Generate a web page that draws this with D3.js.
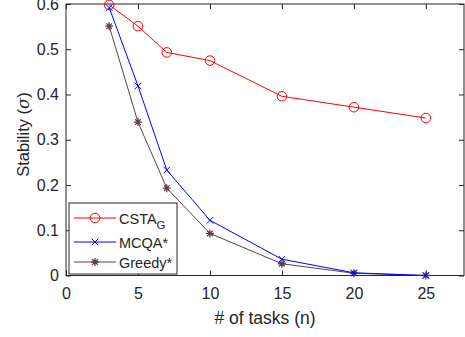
<!DOCTYPE html>
<html lang="en">
<head>
<meta charset="UTF-8">
<title>Stability</title>
<script src="https://d3js.org/d3.v7.min.js"></script>
<style>
  body { margin: 0; background: #fff; }
  text { font-family: "Liberation Sans", Arial, sans-serif; fill: #262626; }
</style>
</head>
<body>
<svg></svg>
<script>
// data
const tasks = [3, 5, 7, 10, 15, 20, 25];
const cstaG = [0.598, 0.551, 0.493, 0.475, 0.396, 0.372, 0.348];
const mcqa = [0.592, 0.419, 0.233, 0.122, 0.036, 0.006, 0.000];
const greedy = [0.551, 0.339, 0.193, 0.093, 0.026, 0.005, 0.000];
const xTicks = [0, 5, 10, 15, 20, 25];
const yTicks = [0, 0.1, 0.2, 0.3, 0.4, 0.5, 0.6];

const W = 465, H = 337;
const margin = { top: 4, right: 1, bottom: 61.5, left: 66 };
const width = W - margin.left - margin.right;
const height = H - margin.top - margin.bottom;

const svg = d3.select("svg").attr("width", W).attr("height", H);
const g = svg.append("g").attr("transform", `translate(${margin.left},${margin.top})`);

const x = d3.scaleLinear().domain([0, 27.65]).range([0, width]);
const y = d3.scaleLinear().domain([0, 0.6]).range([height, 0]);

// axes box with inward ticks (on all four sides)
const axisColor = "#262626";
function styleAxis(sel) {
  sel.select(".domain").remove();
  sel.selectAll("line").attr("stroke", axisColor);
  sel.selectAll("text").style("font-size", "16px").attr("fill", axisColor);
}
g.append("g").attr("transform", `translate(0,${height})`)
  .call(d3.axisBottom(x).tickValues(xTicks).tickFormat(d3.format("d")).tickSizeInner(-5).tickPadding(12))
  .call(styleAxis);
g.append("g")
  .call(d3.axisTop(x).tickValues(xTicks).tickSizeInner(-5).tickFormat(""))
  .call(styleAxis);
g.append("g")
  .call(d3.axisLeft(y).tickValues(yTicks).tickFormat(d => d === 0 ? "0" : d3.format(".1f")(d)).tickSizeInner(-5).tickPadding(7))
  .call(styleAxis);
g.append("g").attr("transform", `translate(${width},0)`)
  .call(d3.axisRight(y).tickValues(yTicks).tickSizeInner(-5).tickFormat(""))
  .call(styleAxis);
g.append("rect").attr("width", width).attr("height", height)
  .attr("fill", "none").attr("stroke", axisColor).attr("stroke-width", 1);

// axis labels
svg.append("text")
  .attr("x", margin.left + width / 2).attr("y", 323.5)
  .attr("text-anchor", "middle").style("font-size", "17.5px")
  .text("# of tasks (n)");
const yl = svg.append("text")
  .attr("transform", "translate(29,134.5) rotate(-90)")
  .attr("text-anchor", "middle").style("font-size", "16.5px");
yl.append("tspan").text("Stability (");
yl.append("tspan").style("font-family", "'DejaVu Serif', serif").style("font-style", "italic").text("σ");
yl.append("tspan").text(")");

// markers
function drawMarker(sel, type, color) {
  if (type === "o") {
    sel.append("circle").attr("r", 4.8).attr("fill", "none").attr("stroke", color).attr("stroke-width", 1);
  } else if (type === "x") {
    const s = 3.3;
    sel.append("path").attr("d", `M${-s},${-s}L${s},${s}M${-s},${s}L${s},${-s}`)
      .attr("stroke", color).attr("stroke-width", 1);
  } else {
    const s = 4;
    const d = `M0,${-s}V${s}M${-s},0H${s}M${-s * 0.7},${-s * 0.7}L${s * 0.7},${s * 0.7}M${-s * 0.7},${s * 0.7}L${s * 0.7},${-s * 0.7}`;
    sel.append("path").attr("d", d).attr("stroke", color).attr("stroke-width", 1.3);
  }
}

const series = [
  { name: "CSTA", sub: "G", values: cstaG, color: "#ff0000", marker: "o" },
  { name: "MCQA*", values: mcqa, color: "#0000ff", marker: "x" },
  { name: "Greedy*", values: greedy, color: "#5e3f4f", marker: "*" }
];

const line = d3.line().x(d => x(d[0])).y(d => y(d[1]));
series.slice().reverse().forEach(s => {
  const pts = tasks.map((t, i) => [t, s.values[i]]);
  g.append("path").datum(pts).attr("d", line)
    .attr("fill", "none").attr("stroke", s.color).attr("stroke-width", 1);
  pts.forEach(p => {
    const m = g.append("g").attr("transform", `translate(${x(p[0])},${y(p[1])})`);
    drawMarker(m, s.marker, s.color);
  });
});

// legend
const lg = svg.append("g").attr("transform", "translate(69,203)");
lg.append("rect").attr("width", 108).attr("height", 71)
  .attr("fill", "#fff").attr("stroke", axisColor).attr("stroke-width", 1);
const rowY = [15, 39, 59];
series.forEach((s, i) => {
  const r = lg.append("g").attr("transform", `translate(0,${rowY[i]})`);
  r.append("line").attr("x1", 5).attr("x2", 47).attr("stroke", s.color).attr("stroke-width", 1);
  drawMarker(r.append("g").attr("transform", "translate(26,0)"), s.marker, s.color);
  const t = r.append("text").attr("x", 50).attr("y", 5.5).style("font-size", "14.5px");
  t.append("tspan").text(s.name);
  if (s.sub) t.append("tspan").attr("dy", 5).style("font-size", "11.5px").text(s.sub);
});
</script>
</body>
</html>
